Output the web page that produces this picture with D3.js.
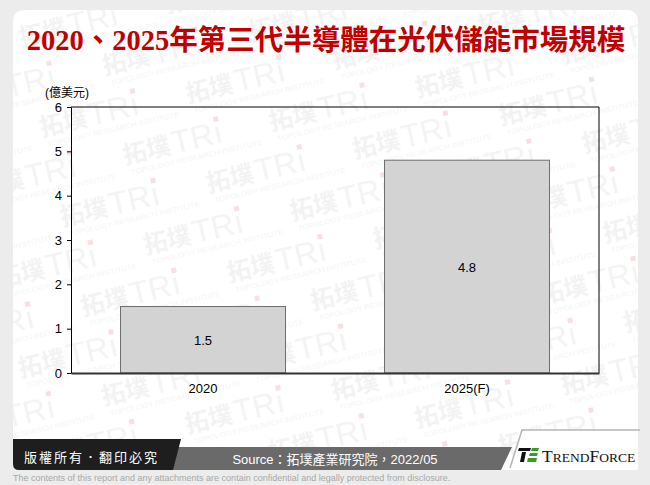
<!DOCTYPE html>
<html>
<head>
<meta charset="utf-8">
<script src="https://cdn.jsdelivr.net/npm/d3@7/dist/d3.min.js"></script>
<style>
  html, body { margin: 0; padding: 0; background: #ececec; }
  svg { display: block; }
</style>
</head>
<body>
<svg id="chart" width="650" height="485"></svg>
<script>
// ---- data ----
const categories = ["2020", "2025(F)"];
const values = [1.5, 4.8];
const valueLabels = ["1.5", "4.8"];
const yTicks = [0, 1, 2, 3, 4, 5, 6];
const titleText = "2020、2025年第三代半導體在光伏儲能市場規模";
const unitText = "(億美元)";
const sourceText = "Source：拓墣產業研究院，2022/05";
const copyrightText = "版權所有．翻印必究";
const disclaimerText = "The contents of this report and any attachments are contain confidential and legally protected from disclosure.";

const svg = d3.select("#chart");
const W = 650, H = 485;

// ---- background & card ----
svg.append("rect").attr("width", W).attr("height", H).attr("fill", "#ececec");

const defs = svg.append("defs");
const pat = defs.append("pattern")
  .attr("id", "wm")
  .attr("patternUnits", "userSpaceOnUse")
  .attr("width", 150).attr("height", 92)
  .attr("patternTransform", "rotate(-13) translate(10,20)");
function wmUnit(g, x, y) {
  g.append("text").attr("x", x).attr("y", y)
    .attr("font-family", "Noto Sans CJK TC").attr("font-weight", 700)
    .attr("font-size", 24).attr("fill", "#f2f2f2").text("拓墣");
  g.append("text").attr("x", x + 50).attr("y", y + 1)
    .attr("font-family", "Liberation Sans").attr("font-weight", 400)
    .attr("font-size", 32).attr("fill", "#f3f3f3").text("TRı");
  g.append("rect").attr("x", x + 96).attr("y", y - 26).attr("width", 5).attr("height", 5)
    .attr("fill", "#f8e0e0");
  g.append("text").attr("x", x + 4).attr("y", y + 12)
    .attr("font-family", "Liberation Sans Narrow, Liberation Sans").attr("font-size", 8)
    .attr("fill", "#f2f2f2").text("TOPOLOGY RESEARCH INSTITUTE");
}
const pg = pat.append("g");
wmUnit(pg, 0, 30);
wmUnit(pg, 75, 76);
wmUnit(pg, -75, 76);

const card = svg.append("g");
card.append("rect").attr("x", 13).attr("y", 10).attr("width", 625).attr("height", 460)
  .attr("rx", 10).attr("fill", "#ffffff");
card.append("rect").attr("x", 13).attr("y", 10).attr("width", 625).attr("height", 460)
  .attr("rx", 10).attr("fill", "url(#wm)");

// ---- title ----
svg.append("text")
  .attr("x", 326).attr("y", 50)
  .attr("text-anchor", "middle")
  .attr("font-family", "Liberation Serif, 'Noto Sans CJK TC'")
  .attr("font-weight", 700)
  .attr("font-size", 28.5)
  .attr("fill", "#c00000")
  .text(titleText);

// ---- chart ----
const plot = { left: 71, right: 599, top: 107, bottom: 373 };

const x = d3.scaleBand().domain(categories).range([plot.left, plot.right]).padding(0);
const y = d3.scaleLinear().domain([0, 6]).range([plot.bottom, plot.top]);
const barW = x.bandwidth() * 0.625;

const g = svg.append("g");

// bars
g.selectAll("rect.bar").data(values).enter().append("rect")
  .attr("class", "bar")
  .attr("x", (d, i) => x(categories[i]) + (x.bandwidth() - barW) / 2)
  .attr("y", d => y(d))
  .attr("width", barW)
  .attr("height", d => y(0) - y(d))
  .attr("fill", "#d3d3d3")
  .attr("stroke", "#6e6e6e")
  .attr("stroke-width", 1);

// value labels
g.selectAll("text.val").data(values).enter().append("text")
  .attr("x", (d, i) => x(categories[i]) + x.bandwidth() / 2)
  .attr("y", d => (y(d) + y(0)) / 2 + 5)
  .attr("text-anchor", "middle")
  .attr("font-family", "Liberation Sans, Arial")
  .attr("font-size", 13)
  .attr("fill", "#000")
  .text((d, i) => valueLabels[i]);

// frame (top, right)
g.append("path")
  .attr("d", `M${plot.left},${plot.top}H${plot.right}V${plot.bottom}`)
  .attr("fill", "none").attr("stroke", "#000").attr("stroke-width", 1);

// y axis
const yAxis = d3.axisLeft(y).tickValues(yTicks).tickSize(4).tickPadding(5).tickFormat(d3.format("d"));
const ya = g.append("g").attr("transform", `translate(${plot.left},0)`).call(yAxis);
ya.select(".domain").attr("stroke", "#000");
ya.selectAll(".tick line").attr("stroke", "#000");
ya.selectAll(".tick text")
  .attr("font-family", "Liberation Sans, Arial").attr("font-size", 13).attr("fill", "#000");

// x axis
const xAxis = d3.axisBottom(x).tickSize(0).tickPadding(11);
const xa = g.append("g").attr("transform", `translate(0,${plot.bottom})`).call(xAxis);
xa.select(".domain").attr("stroke", "#333").attr("stroke-width", 2);
xa.selectAll(".tick text")
  .attr("font-family", "Liberation Sans, Arial").attr("font-size", 13).attr("fill", "#000");

// unit label
svg.append("text").attr("x", 45).attr("y", 97)
  .attr("font-family", "Liberation Sans, 'Noto Sans CJK TC'")
  .attr("font-size", 12).attr("fill", "#000")
  .text(unitText);

// ---- footer ----
const ft = svg.append("g");
// gray band
ft.append("path")
  .attr("d", "M160,447 L512,447 L501,470 L160,470 Z")
  .attr("fill", "#6a6a6a");
// black band
ft.append("path")
  .attr("d", "M13,439 L181,439 L173,470 L19,470 Q13,470 13,464 Z")
  .attr("fill", "#1e1e1e");
ft.append("text").attr("x", 24).attr("y", 462)
  .attr("font-family", "'Noto Sans CJK TC'").attr("font-size", 13)
  .attr("letter-spacing", 2)
  .attr("fill", "#ffffff").text(copyrightText);
ft.append("text").attr("x", 335).attr("y", 464)
  .attr("text-anchor", "middle")
  .attr("font-family", "'Liberation Sans Narrow', 'Liberation Sans', 'Noto Sans CJK TC'")
  .attr("font-size", 13)
  .attr("fill", "#ffffff").text(sourceText);

// logo panel
ft.append("path")
  .attr("d", "M522,430 L638,430 L638,470 L510,470 Z")
  .attr("fill", "#ffffff");
ft.append("path")
  .attr("d", "M510,468 L522,430 L640,430")
  .attr("fill", "none").attr("stroke", "#b5b5b5").attr("stroke-width", 1.5);
// icon
ft.append("path").attr("d", "M519,448 L531,448 L530,451 L518,451 Z").attr("fill", "#111");
ft.append("path").attr("d", "M522,452 L526,452 L524,462 L520,462 Z").attr("fill", "#111");
ft.append("path").attr("d", "M532,448 L539,448 L538,451 L531,451 Z").attr("fill", "#3a9a2a");
ft.append("path").attr("d", "M530,453 L538,453 L537,456 L529,456 Z").attr("fill", "#3a9a2a");
ft.append("path").attr("d", "M528,458 L537,458 L536,462 L527,462 Z").attr("fill", "#3a9a2a");
const lt = ft.append("text").attr("x", 542).attr("y", 462)
  .attr("font-family", "Liberation Serif").attr("fill", "#111");
lt.append("tspan").attr("font-size", 17.5).text("T");
lt.append("tspan").attr("font-size", 13.5).text("REND");
lt.append("tspan").attr("font-size", 17.5).text("F");
lt.append("tspan").attr("font-size", 13.5).text("ORCE");

// disclaimer
svg.append("text").attr("x", 13).attr("y", 481)
  .attr("font-family", "'Liberation Sans Narrow', 'Liberation Sans'")
  .attr("font-size", 9).attr("fill", "#a8a8a8")
  .text(disclaimerText);
</script>
</body>
</html>
